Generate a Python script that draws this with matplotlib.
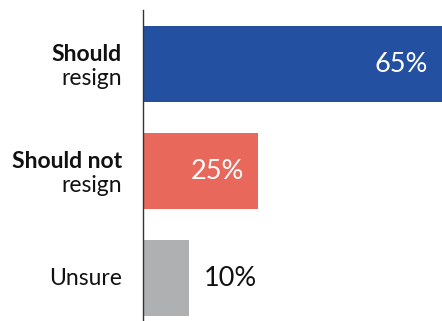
import matplotlib.pyplot as plt

plt.rcParams["font.family"] = ["Lato", "DejaVu Sans"]

# data
label_bold = ["Should", "Should not", ""]
label_rest = ["resign", "resign", "Unsure"]
values = [65, 25, 10]
colors = ["#2350A0", "#E8695C", "#AEB0B1"]

fig = plt.figure(figsize=(4.42, 3.21), dpi=100)
# axes from x=143px to right edge, y from 10px to bottom
ax = fig.add_axes([143 / 442, 0, 1 - 143 / 442, 1 - 10 / 321])

ypos = list(range(len(values)))
ax.barh(ypos, values, height=0.71, color=colors, zorder=2)
ax.set_xlim(0, 65)
ax.set_ylim(2.40, -0.505)

for s in ["top", "right", "bottom"]:
    ax.spines[s].set_visible(False)
ax.spines["left"].set_color("#333333")
ax.spines["left"].set_linewidth(1.0)
ax.spines["left"].set_zorder(3)
ax.set_xticks([])
ax.set_yticks([])

for i, (b, r, v) in enumerate(zip(label_bold, label_rest, values)):
    if b:
        ax.annotate(b, xy=(0, i), xytext=(-21, 3), textcoords="offset pixels",
                    ha="right", va="baseline", fontsize=16.5, fontweight="bold",
                    color="#111111")
        ax.annotate(r, xy=(0, i), xytext=(-21, -21), textcoords="offset pixels",
                    ha="right", va="baseline", fontsize=16.5, color="#111111")
    else:
        ax.annotate(r, xy=(0, i), xytext=(-21, 0), textcoords="offset pixels",
                    ha="right", va="center", fontsize=16.5, color="#111111")
    # value labels: inside for big bars, outside for small ones
    if v >= 20:
        ax.annotate(f"{v}%", xy=(v, i), xytext=(-14, 0), textcoords="offset pixels",
                    ha="right", va="center", fontsize=19.5, color="white")
    else:
        ax.annotate(f"{v}%", xy=(v, i), xytext=(15, 0), textcoords="offset pixels",
                    ha="left", va="center", fontsize=19.5, color="#111111")

fig.savefig("out.png", dpi=100)
